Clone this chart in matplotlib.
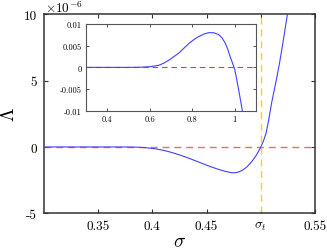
import matplotlib
matplotlib.use("Agg")
import matplotlib.pyplot as plt

# Main curve: sigma vs Lambda (in units of 1e-6)
sigma_main = [0.30, 0.36, 0.375, 0.38, 0.385, 0.39, 0.395, 0.40, 0.405, 0.41, 0.415, 0.42,
              0.425, 0.43, 0.435, 0.44, 0.445, 0.45, 0.455, 0.46, 0.465, 0.47,
              0.4725, 0.475, 0.4775, 0.48, 0.4825, 0.485, 0.4875, 0.49, 0.4925,
              0.495, 0.4975, 0.50, 0.5025, 0.505, 0.5075, 0.51, 0.5125, 0.515,
              0.5175, 0.52, 0.5225, 0.525, 0.5275]
lambda_main = [0.0, 0.0, -0.002, -0.006, -0.015, -0.035, -0.065, -0.11, -0.17, -0.25, -0.35, -0.47,
               -0.60, -0.74, -0.89, -1.05, -1.21, -1.37, -1.52, -1.66, -1.79, -1.89,
               -1.93, -1.95, -1.93, -1.87, -1.78, -1.65, -1.48, -1.27, -1.02,
               -0.74, -0.40, -0.02, 0.45, 1.05, 2.10, 3.30, 4.30, 5.30,
               6.40, 7.60, 8.90, 10.20, 11.6]

# Inset curve
sigma_inset = [0.30, 0.50, 0.55, 0.575, 0.60, 0.62, 0.644, 0.667, 0.691, 0.714, 0.737,
               0.76, 0.784, 0.807, 0.830, 0.855, 0.877, 0.90, 0.923, 0.94, 0.954,
               0.967, 0.978, 0.99, 1.0, 1.008, 1.016, 1.024, 1.032, 1.040, 1.048]
lambda_inset = [0.0, 0.0, 0.00003, 0.00008, 0.00016, 0.0003, 0.0005, 0.0010, 0.0017, 0.0025,
                0.0033, 0.0044, 0.0055, 0.0064, 0.0071, 0.0077, 0.0080, 0.0080, 0.0076,
                0.0068, 0.0057, 0.0042, 0.0025, 0.0009, -0.0005, -0.0025, -0.0046,
                -0.0068, -0.0090, -0.0112, -0.0135]

sigma_t = 0.5
main_xticks = [0.35, 0.40, 0.45, 0.50, 0.55]
main_xticklabels = ['0.35', '0.4', '0.45', r'$\sigma_t$', '0.55']
main_yticks = [-5, 0, 5, 10]
main_yticklabels = ['-5', '0', '5', '10']
inset_xticks = [0.4, 0.6, 0.8, 1.0]
inset_xticklabels = ['0.4', '0.6', '0.8', '1']
inset_yticks = [-0.01, -0.005, 0, 0.005, 0.01]
inset_yticklabels = ['-0.01', '-0.005', '0', '0.005', '0.01']

plt.rcParams['font.family'] = ['cmr10', 'DejaVu Serif']
plt.rcParams['mathtext.fontset'] = 'cm'
plt.rcParams['axes.unicode_minus'] = False

fig = plt.figure(figsize=(3.27, 2.53), dpi=100)
ax = fig.add_axes([0.1346, 0.153, 0.963 - 0.1346, 0.9395 - 0.153])

blue = '#4040ff'
red = '#ff4040'
yellow = '#ffd400'
spine_c = '#333333'

ax.plot(sigma_main, lambda_main, color=blue, lw=0.8, zorder=3)
ax.axhline(0, color=red, lw=1.0, dashes=(5, 3.5), zorder=2, alpha=0.8)
ax.axvline(sigma_t, color=yellow, lw=1.0, dashes=(5, 3.5), zorder=2)
ax.set_xlim(0.30, 0.55)
ax.set_ylim(-5, 10)
ax.set_xticks(main_xticks)
ax.set_xticklabels(main_xticklabels)
ax.set_yticks(main_yticks)
ax.set_yticklabels(main_yticklabels)
ax.tick_params(direction='in', top=True, right=True, length=3, width=0.8,
               color=spine_c, labelsize=9.5, pad=5)
for s in ax.spines.values():
    s.set_color(spine_c)
    s.set_linewidth(1.1)
ax.set_xlabel(r'$\sigma$', fontsize=14, labelpad=0)
ax.set_ylabel(r'$\Lambda$', fontsize=14, labelpad=4)
fig.text(0.138, 0.998, r'$\times10^{-6}$', fontsize=9.5, ha='left', va='top')

ins = fig.add_axes([0.263, 0.5585, 0.783 - 0.263, 0.901 - 0.5585])
ins.plot(sigma_inset, lambda_inset, color=blue, lw=0.8, zorder=3)
ins.axhline(0, color='#ff3030', lw=0.8, dashes=(5, 3.5), zorder=2)
ins.set_xlim(0.3, 1.1)
ins.set_ylim(-0.01, 0.01)
ins.set_xticks(inset_xticks)
ins.set_xticklabels(inset_xticklabels)
ins.set_yticks(inset_yticks)
ins.set_yticklabels(inset_yticklabels)
ins.tick_params(direction='in', top=True, right=True, length=2, width=0.6,
                color=spine_c, labelsize=6, pad=3)
for s in ins.spines.values():
    s.set_color('#555555')
    s.set_linewidth(0.8)

fig.savefig('out.png', dpi=100)
